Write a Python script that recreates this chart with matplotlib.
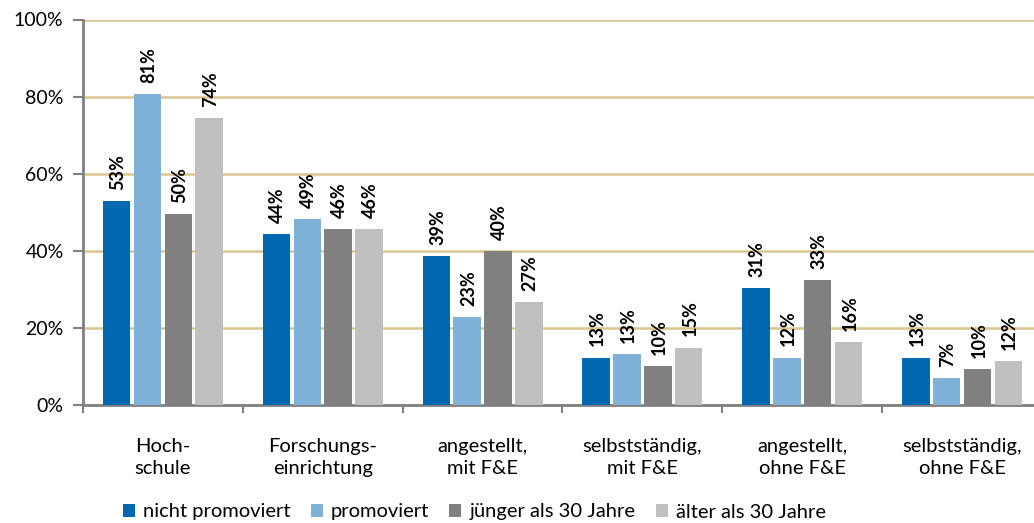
import matplotlib.pyplot as plt
import numpy as np

plt.rcParams['font.family'] = ['Lato', 'DejaVu Sans']

# categories and series
kategorien = ["Hoch-\nschule", "Forschungs-\neinrichtung", "angestellt,\nmit F&E",
              "selbstständig,\nmit F&E", "angestellt,\nohne F&E", "selbstständig,\nohne F&E"]
serien = ["nicht promoviert", "promoviert", "jünger als 30 Jahre", "älter als 30 Jahre"]
farben = ["#0068b0", "#7fb2d8", "#808080", "#c0c0c0"]

# bar heights (percent)
nicht_promoviert = [52.9, 44.4, 38.7, 12.3, 30.4, 12.3]
promoviert = [80.6, 48.3, 22.8, 13.2, 12.3, 7.1]
juenger_30 = [49.6, 45.7, 40.0, 10.2, 32.5, 9.3]
aelter_30 = [74.4, 45.7, 26.8, 14.9, 16.3, 11.5]

# printed labels
lab_nicht = [53, 44, 39, 13, 31, 13]
lab_prom = [81, 49, 23, 13, 12, 7]
lab_jung = [50, 46, 40, 10, 33, 10]
lab_alt = [74, 46, 27, 15, 16, 12]

werte = [nicht_promoviert, promoviert, juenger_30, aelter_30]
labels = [lab_nicht, lab_prom, lab_jung, lab_alt]

fig = plt.figure(figsize=(10.34, 5.23), dpi=100)
ax = fig.add_axes([83/1034, 1-405/523, (1042-83)/1034, (405-19.5)/523])

x = np.arange(len(kategorien))
slot = 0.193
for i in range(4):
    pos = x + (i - 1.5) * slot
    bars = ax.bar(pos, werte[i], width=0.172, color=farben[i], label=serien[i], zorder=3)
    for b, l in zip(bars, labels[i]):
        ax.annotate(f"{l}%", (b.get_x() + b.get_width()/2, b.get_height()),
                    xytext=(1, 8), textcoords='offset points', rotation=90,
                    ha='center', va='bottom', fontsize=13, fontweight='bold')

ax.set_xlim(-0.5, len(kategorien) - 0.5)
ax.set_ylim(0, 100)
ax.set_yticks(range(0, 101, 20))
ax.set_yticklabels([f"{v}%" for v in range(0, 101, 20)], fontsize=14)
ax.yaxis.grid(True, color='#d9c58f', linewidth=1.8, zorder=0)
ax.set_axisbelow(True)

ax.set_xticks(x)
ax.set_xticklabels(kategorien, fontsize=14.5, linespacing=1.35)
ax.set_xticks(np.arange(-0.5, len(kategorien)), minor=True)
ax.tick_params(axis='x', which='major', length=0, pad=24)
ax.tick_params(axis='x', which='minor', length=6, color='#808080', width=1.5)
ax.tick_params(axis='y', length=7, color='#808080', width=1.5, pad=7)

for s in ['top', 'right']:
    ax.spines[s].set_visible(False)
for s in ['left', 'bottom']:
    ax.spines[s].set_color('#808080')
    ax.spines[s].set_linewidth(2)

fig.legend(loc='center left', bbox_to_anchor=(115/1034, 1-512/523), ncol=4, frameon=False,
           fontsize=14.5, handlelength=0.6, handleheight=0.6, handletextpad=0.4,
           columnspacing=1.0, borderaxespad=0)

fig.savefig("out.png", dpi=100)
